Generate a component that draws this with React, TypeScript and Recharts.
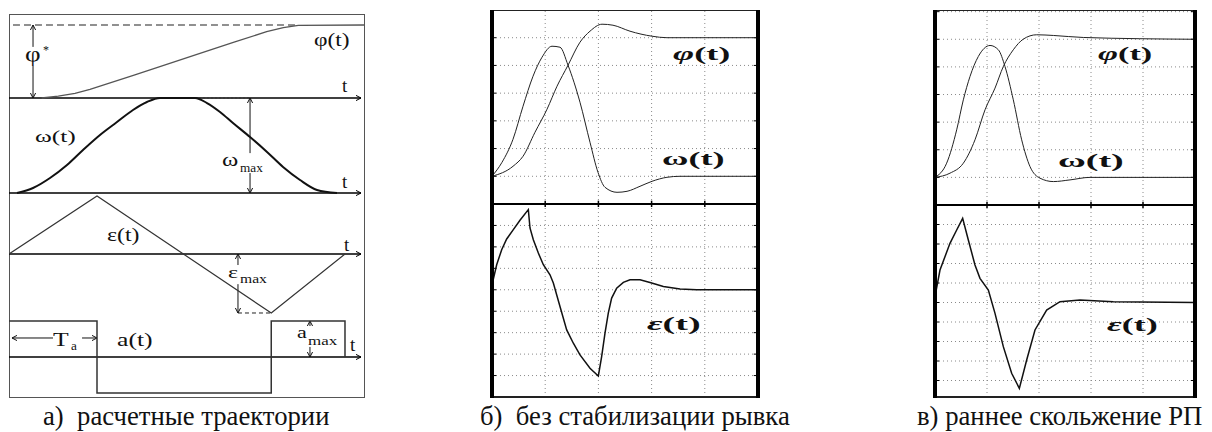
import React from "react";
import { LineChart, Line, XAxis, YAxis, ReferenceLine } from "recharts";

type Pt = { t: number; v: number };

// ── а) расчетные траектории: t in units of T_a; values normalised (φ*, ω_max, ε_max, a_max = 1)
const phiA: Pt[] = [
  { t: 0.371, v: 0 }, { t: 0.56, v: 0.027 }, { t: 0.75, v: 0.064 }, { t: 0.92, v: 0.119 },
  { t: 1.413, v: 0.311 }, { t: 1.792, v: 0.461 }, { t: 2.17, v: 0.612 }, { t: 2.549, v: 0.763 },
  { t: 2.928, v: 0.908 }, { t: 3.117, v: 0.963 }, { t: 3.288, v: 0.996 }, { t: 4.034, v: 1 },
];
const omegaA: Pt[] = [
  { t: 0.091, v: 0 }, { t: 0.273, v: 0.053 }, { t: 0.466, v: 0.158 }, { t: 0.659, v: 0.295 },
  { t: 0.841, v: 0.453 }, { t: 1.034, v: 0.611 }, { t: 1.227, v: 0.747 }, { t: 1.409, v: 0.874 },
  { t: 1.568, v: 0.958 }, { t: 1.716, v: 1 }, { t: 2.114, v: 1 }, { t: 2.25, v: 0.947 },
  { t: 2.398, v: 0.853 }, { t: 2.545, v: 0.737 }, { t: 2.739, v: 0.589 }, { t: 2.932, v: 0.432 },
  { t: 3.114, v: 0.274 }, { t: 3.307, v: 0.137 }, { t: 3.5, v: 0.032 }, { t: 3.727, v: 0 },
];
const epsA: Pt[] = [
  { t: 0, v: 0 }, { t: 1.0, v: 1.0 }, { t: 2.98, v: -1.017 }, { t: 3.818, v: 0 },
];
const accA: Pt[] = [
  { t: 0, v: 1 }, { t: 1, v: 1 }, { t: 1, v: -1 }, { t: 2.98, v: -1 },
  { t: 2.98, v: 1 }, { t: 3.818, v: 1 }, { t: 3.818, v: 0 },
];

// ── б) без стабилизации рывка: t in grid cells, values in grid divisions
const phiB: Pt[] = [
  { t: 0, v: 0 }, { t: 0.395, v: 0.361 }, { t: 0.583, v: 0.722 }, { t: 0.808, v: 1.588 },
  { t: 1.034, v: 2.419 }, { t: 1.222, v: 3.249 }, { t: 1.429, v: 4.007 }, { t: 1.654, v: 4.838 },
  { t: 1.842, v: 5.235 }, { t: 2.068, v: 5.487 }, { t: 2.274, v: 5.451 }, { t: 2.594, v: 5.235 },
  { t: 3.008, v: 5.054 }, { t: 3.289, v: 5.0 }, { t: 5, v: 5 },
];
const omegaB: Pt[] = [
  { t: 0, v: 0 }, { t: 0.188, v: 0.505 }, { t: 0.395, v: 1.336 }, { t: 0.583, v: 2.527 },
  { t: 0.771, v: 3.61 }, { t: 0.94, v: 4.296 }, { t: 1.128, v: 4.693 }, { t: 1.278, v: 4.657 },
  { t: 1.429, v: 4.007 }, { t: 1.654, v: 2.671 }, { t: 1.842, v: 1.227 }, { t: 1.992, v: 0.144 },
  { t: 2.124, v: -0.397 }, { t: 2.35, v: -0.578 }, { t: 2.538, v: -0.542 }, { t: 2.782, v: -0.361 },
  { t: 3.008, v: -0.181 }, { t: 3.289, v: -0.036 }, { t: 3.534, v: 0 }, { t: 5, v: 0 },
];
const epsB: Pt[] = [
  { t: 0, v: 0.234 }, { t: 0.088, v: 1.168 }, { t: 0.182, v: 1.869 }, { t: 0.276, v: 2.368 },
  { t: 0.401, v: 2.804 }, { t: 0.526, v: 3.24 }, { t: 0.683, v: 3.738 }, { t: 0.714, v: 2.882 },
  { t: 0.777, v: 2.336 }, { t: 0.871, v: 1.713 }, { t: 0.965, v: 1.168 }, { t: 1.09, v: 0.701 },
  { t: 1.153, v: 0.312 }, { t: 1.278, v: -0.779 }, { t: 1.404, v: -1.869 }, { t: 1.529, v: -2.492 },
  { t: 1.654, v: -3.037 }, { t: 1.842, v: -3.66 }, { t: 1.999, v: -4.019 }, { t: 2.061, v: -3.115 },
  { t: 2.124, v: -2.025 }, { t: 2.186, v: -1.09 }, { t: 2.249, v: -0.389 }, { t: 2.343, v: 0.078 },
  { t: 2.469, v: 0.343 }, { t: 2.594, v: 0.467 }, { t: 2.782, v: 0.467 }, { t: 2.97, v: 0.343 },
  { t: 3.221, v: 0.156 }, { t: 3.534, v: 0.031 }, { t: 3.848, v: 0 }, { t: 5, v: 0 },
];

// ── в) раннее скольжение РП
const phiC: Pt[] = [
  { t: 0, v: 0 }, { t: 0.288, v: 0.152 }, { t: 0.545, v: 0.514 }, { t: 0.769, v: 1.359 },
  { t: 0.962, v: 2.446 }, { t: 1.154, v: 3.232 }, { t: 1.314, v: 4.014 }, { t: 1.506, v: 4.62 },
  { t: 1.699, v: 5.007 }, { t: 1.955, v: 5.163 }, { t: 2.276, v: 5.138 }, { t: 2.853, v: 5.065 },
  { t: 5, v: 5 },
];
const omegaC: Pt[] = [
  { t: 0, v: 0 }, { t: 0.224, v: 0.514 }, { t: 0.417, v: 1.721 }, { t: 0.545, v: 2.808 },
  { t: 0.673, v: 3.652 }, { t: 0.833, v: 4.377 }, { t: 1.058, v: 4.776 }, { t: 1.218, v: 4.62 },
  { t: 1.346, v: 4.014 }, { t: 1.506, v: 2.808 }, { t: 1.667, v: 1.359 }, { t: 1.827, v: 0.391 },
  { t: 2.019, v: -0.029 }, { t: 2.276, v: -0.152 }, { t: 2.596, v: -0.091 }, { t: 2.981, v: 0 },
  { t: 5, v: 0 },
];
const epsC: Pt[] = [
  { t: 0, v: 0.3 }, { t: 0.096, v: 1.667 }, { t: 0.288, v: 3.034 }, { t: 0.417, v: 3.718 },
  { t: 0.532, v: 4.316 }, { t: 0.641, v: 3.205 }, { t: 0.769, v: 1.923 }, { t: 0.865, v: 1.239 },
  { t: 1.026, v: 0.641 }, { t: 1.154, v: -0.556 }, { t: 1.314, v: -2.265 }, { t: 1.474, v: -3.632 },
  { t: 1.622, v: -4.402 }, { t: 1.763, v: -2.949 }, { t: 1.923, v: -1.41 }, { t: 2.147, v: -0.385 },
  { t: 2.404, v: 0.043 }, { t: 2.788, v: 0.128 }, { t: 3.429, v: 0.043 }, { t: 5, v: 0 },
];

const captions = ["а)  расчетные траектории", "б)  без стабилизации рывка", "в) раннее скольжение РП"];

const SERIF = '"Liberation Serif", "DejaVu Serif", "Noto Serif", "Times New Roman", Times, serif';

type Head = "none" | "start" | "end" | "both";
const arrow = (head: Head, stroke = "#111", width = 1, dash?: string) => (p: any) => {
  const x1 = +p.x1, y1 = +p.y1, x2 = +p.x2, y2 = +p.y2;
  const dx = x2 - x1, dy = y2 - y1;
  const len = Math.hypot(dx, dy) || 1;
  const ux = dx / len, uy = dy / len;
  const L = 5, W = 2.6;
  const tip = (x: number, y: number, ex: number, ey: number) =>
    `M${x - ex * L - ey * W},${y - ey * L + ex * W}L${x},${y}L${x - ex * L + ey * W},${y - ey * L - ex * W}`;
  let d = "";
  if (head === "end" || head === "both") d += tip(x2, y2, ux, uy);
  if (head === "start" || head === "both") d += tip(x1, y1, -ux, -uy);
  return (
    <g>
      <line x1={x1} y1={y1} x2={x2} y2={y2} stroke={stroke} strokeWidth={width} strokeDasharray={dash} />
      {d ? <path d={d} fill="none" stroke={stroke} strokeWidth={1} /> : null}
    </g>
  );
};

function Txt(props: { x: number; base: number; size: number; sx?: number; bold?: boolean; italic?: boolean; children: any; color?: string }) {
  const { x, base, size, sx = 1, bold, italic, children, color = "#111" } = props;
  return (
    <div
      style={{
        position: "absolute", left: x, top: base - 0.8375 * size, fontSize: size, lineHeight: 1,
        fontFamily: SERIF, fontWeight: bold ? "bold" : "normal", fontStyle: italic ? "italic" : "normal",
        transform: `scaleX(${sx})`, transformOrigin: "0 0", whiteSpace: "pre", color,
      }}
    >
      {children}
    </div>
  );
}

const A_W = 355, A_H = 383;
const strip = (zero: number, unit: number): [number, number] => [-(A_H - zero) / unit, zero / unit];

function PanelA() {
  const ax = (id: string) => (
    <ReferenceLine key={"ax" + id} yAxisId={id} segment={[{ x: 0, y: 0 }, { x: 4.0, y: 0 }]} shape={arrow("end", "#000", 1.6)} ifOverflow="visible" />
  );
  const seg = (id: string, a: [number, number], b: [number, number], head: Head, dash?: string, color = "#111", w = 1) => (
    <ReferenceLine key={id + a.join() + b.join()} yAxisId={id} segment={[{ x: a[0], y: a[1] }, { x: b[0], y: b[1] }]} shape={arrow(head, color, w, dash)} ifOverflow="visible" />
  );
  return (
    <div style={{ position: "absolute", left: 9, top: 14 }}>
      <LineChart width={A_W} height={A_H} margin={{ top: 0, right: 0, bottom: 0, left: 0 }}>
        <XAxis type="number" dataKey="t" domain={[0, 4.034]} hide allowDataOverflow />
        <YAxis yAxisId="phi" type="number" domain={strip(84, 73)} hide allowDataOverflow />
        <YAxis yAxisId="om" type="number" domain={strip(179, 95)} hide allowDataOverflow />
        <YAxis yAxisId="eps" type="number" domain={strip(240, 58)} hide allowDataOverflow />
        <YAxis yAxisId="acc" type="number" domain={strip(343, 36)} hide allowDataOverflow />
        {ax("phi")}
        {ax("om")}
        {ax("eps")}
        {ax("acc")}
        {seg("phi", [0.045, 1], [3.29, 1], "none", "7 4", "#222", 1.2)}
        {seg("phi", [0.273, 1], [0.273, 0.7], "start")}
        {seg("phi", [0.273, 0.44], [0.273, 0], "end")}
        {seg("om", [2.114, 1], [2.739, 1], "none", "2 2", "#333", 1)}
        {seg("om", [2.739, 1], [2.739, 0.42], "start")}
        {seg("om", [2.739, 0.21], [2.739, 0], "end")}
        {seg("eps", [2.602, -1.017], [2.98, -1.017], "none", "4 3", "#222", 1)}
        {seg("eps", [2.602, 0], [2.602, -0.19], "start")}
        {seg("eps", [2.602, -0.52], [2.602, -1.017], "end")}
        {seg("acc", [0.034, 0.528], [0.5, 0.528], "start")}
        {seg("acc", [0.83, 0.528], [1.0, 0.528], "end")}
        {seg("acc", [3.42, 1], [3.42, 0.86], "start")}
        {seg("acc", [3.42, 0.28], [3.42, 0], "end")}
        <Line yAxisId="phi" data={phiA} dataKey="v" type="linear" stroke="#555" strokeWidth={1.3} dot={false} isAnimationActive={false} />
        <Line yAxisId="om" data={omegaA} dataKey="v" type="monotone" stroke="#111" strokeWidth={2} dot={false} isAnimationActive={false} />
        <Line yAxisId="eps" data={epsA} dataKey="v" type="linear" stroke="#333" strokeWidth={1.2} dot={false} isAnimationActive={false} />
        <Line yAxisId="acc" data={accA} dataKey="v" type="linear" stroke="#333" strokeWidth={1.5} dot={false} isAnimationActive={false} />
      </LineChart>
    </div>
  );
}

type Series = { data: Pt[]; type: "monotone" | "linear"; color: string; width: number };

function GridChart(props: { left: number; top: number; w: number; h: number; yMin: number; yMax: number; edgeY: number; edgeLen: number; series: Series[] }) {
  const { left, top, w, h, yMin, yMax, edgeY, edgeLen, series } = props;
  const hLines: number[] = [];
  for (let y = Math.ceil(yMin + 0.05); y <= Math.floor(yMax - 0.05); y++) hLines.push(y);
  const vLines = [1, 2, 3, 4];
  return (
    <div style={{ position: "absolute", left, top }}>
      <LineChart width={w} height={h} margin={{ top: 0, right: 0, bottom: 0, left: 0 }}>
        <XAxis type="number" dataKey="t" domain={[0, 5]} hide allowDataOverflow />
        <YAxis type="number" domain={[yMin, yMax]} hide allowDataOverflow />
        {vLines.map((x) => (
          <ReferenceLine key={"v" + x} x={x} stroke="#8a8a8a" strokeDasharray="1 3" />
        ))}
        {hLines.map((y) => (
          <ReferenceLine key={"h" + y} y={y} stroke="#8a8a8a" strokeDasharray="1 3" />
        ))}
        {hLines.map((y) => (
          <ReferenceLine key={"tl" + y} segment={[{ x: 0, y }, { x: 0.08, y }]} stroke="#000" ifOverflow="visible" />
        ))}
        {hLines.map((y) => (
          <ReferenceLine key={"tr" + y} segment={[{ x: 4.92, y }, { x: 5, y }]} stroke="#000" ifOverflow="visible" />
        ))}
        {vLines.map((x) => (
          <ReferenceLine key={"te" + x} segment={[{ x, y: edgeY }, { x, y: edgeY + edgeLen }]} stroke="#000" strokeWidth={1.5} ifOverflow="visible" />
        ))}
        {series.map((s, i) => (
          <Line key={i} data={s.data} dataKey="v" type={s.type} stroke={s.color} strokeWidth={s.width} dot={false} isAnimationActive={false} />
        ))}
      </LineChart>
    </div>
  );
}

function Frame(props: { l: number; r: number; t: number; m: number; b: number }) {
  const { l, r, t, m, b } = props;
  const abs = (x: number, y: number, w: number, h: number, c = "#000") => (
    <div style={{ position: "absolute", left: x, top: y, width: w, height: h, background: c }} />
  );
  return (
    <>
      {abs(l, t - 0.5, r - l, 1, "#222")}
      {abs(l, m - 1, r - l, 2)}
      {abs(l, b - 1, r - l, 1.5, "#222")}
      {abs(l - 2, t - 0.5, 4, b - t + 1)}
      {abs(r - 2, t - 0.5, 4, b - t + 1)}
    </>
  );
}

export default function App() {
  return (
    <div style={{ position: "absolute", left: 0, top: 0, width: 1212, height: 432, background: "#fff", overflow: "hidden", fontFamily: SERIF }}>
      {/* panel a */}
      <div style={{ position: "absolute", left: 8.5, top: 13.5, width: 356, height: 384, border: "1.5px solid #555", boxSizing: "border-box" }} />
      <PanelA />
      <Txt x={314} base={46} size={18} sx={1.3}>φ(t)</Txt>
      <Txt x={342} base={92} size={19}>t</Txt>
      <Txt x={35} base={142} size={17} sx={1.5}>ω(t)</Txt>
      <Txt x={222} base={166} size={19} sx={1.3}>ω</Txt>
      <Txt x={240} base={172} size={12} sx={1.1}>max</Txt>
      <Txt x={342} base={188} size={19}>t</Txt>
      <Txt x={107} base={241} size={19} sx={1.25}>ε(t)</Txt>
      <Txt x={344} base={251} size={19}>t</Txt>
      <Txt x={228} base={278} size={17} sx={1.4}>ε</Txt>
      <Txt x={240} base={283} size={13} sx={1.2}>max</Txt>
      <Txt x={53} base={346} size={19} sx={1.35}>T</Txt>
      <Txt x={71} base={350} size={12} sx={1.1}>a</Txt>
      <Txt x={117} base={346} size={19} sx={1.35}>a(t)</Txt>
      <Txt x={297} base={338} size={17} sx={1.3}>a</Txt>
      <Txt x={308} base={345} size={13} sx={1.3}>max</Txt>
      <Txt x={350} base={351} size={19}>t</Txt>
      <Txt x={25} base={61} size={20} sx={1.35}>φ</Txt>
      <Txt x={43} base={54} size={12}>*</Txt>

      {/* panel b */}
      <GridChart left={492} top={10} w={266} h={194} yMin={-1} yMax={6} edgeY={-1} edgeLen={0.12}
        series={[
          { data: phiB, type: "monotone", color: "#222", width: 1 },
          { data: omegaB, type: "monotone", color: "#222", width: 1 },
        ]} />
      <GridChart left={492} top={204} w={266} h={193} yMin={-5} yMax={4} edgeY={4} edgeLen={-0.14}
        series={[{ data: epsB, type: "linear", color: "#111", width: 1.5 }]} />
      <Frame l={492} r={758} t={10} m={204} b={397} />
      <Txt x={673} base={60} size={19} sx={1.9} bold><i>φ</i>(t)</Txt>
      <Txt x={662} base={165} size={19} sx={1.9} bold>ω(t)</Txt>
      <Txt x={647} base={330} size={19} sx={2.0} bold><i>ε</i>(t)</Txt>

      {/* panel c */}
      <GridChart left={935} top={10} w={260} h={195} yMin={-1} yMax={6.06} edgeY={-1} edgeLen={0.12}
        series={[
          { data: phiC, type: "monotone", color: "#222", width: 1 },
          { data: omegaC, type: "monotone", color: "#222", width: 1 },
        ]} />
      <GridChart left={935} top={205} w={260} h={192} yMin={-4.846} yMax={5} edgeY={5} edgeLen={-0.15}
        series={[{ data: epsC, type: "linear", color: "#111", width: 1.5 }]} />
      <Frame l={935} r={1195} t={10} m={205} b={397} />
      <Txt x={1098} base={60} size={19} sx={1.8} bold><i>φ</i>(t)</Txt>
      <Txt x={1058} base={167} size={19} sx={2.0} bold>ω(t)</Txt>
      <Txt x={1107} base={331} size={19} sx={1.9} bold><i>ε</i>(t)</Txt>

      {/* captions */}
      <Txt x={43} base={425} size={26.7}>{captions[0]}</Txt>
      <Txt x={480} base={425} size={26.7}>{captions[1]}</Txt>
      <Txt x={917} base={425} size={26.7}>{captions[2]}</Txt>
    </div>
  );
}
